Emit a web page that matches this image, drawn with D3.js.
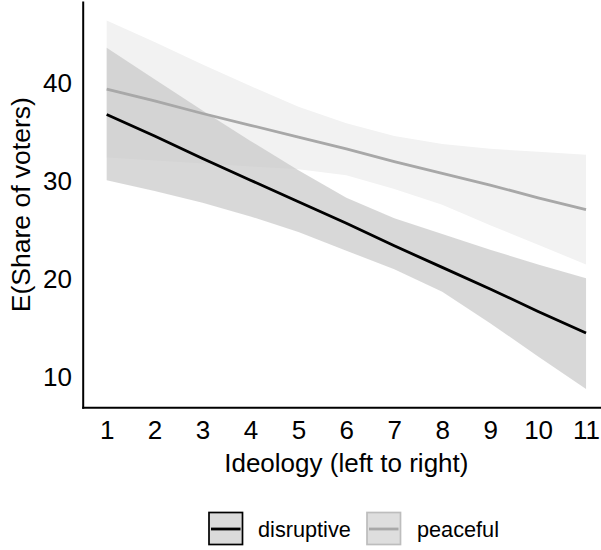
<!DOCTYPE html>
<html>
<head>
<meta charset="utf-8">
<script src="https://cdn.jsdelivr.net/npm/d3@7"></script>
<style>
  body { margin: 0; background: #fff; }
  text { font-family: "Liberation Sans", Arial, sans-serif; fill: #000; }
</style>
</head>
<body>
<svg id="chart" width="601" height="550"></svg>
<script>
// ideology scale points
var ideology = [1, 2, 3, 4, 5, 6, 7, 8, 9, 10, 11];

// expected share of voters, disruptive protest
var disruptiveFit   = [36.8, 34.6, 32.3, 30.1, 27.9, 25.7, 23.4, 21.2, 19.0, 16.7, 14.5];
var disruptiveLower = [30.1, 29.0, 27.8, 26.4, 24.8, 22.9, 21.0, 18.7, 15.5, 12.1, 8.8];
var disruptiveUpper = [43.6, 40.4, 37.2, 34.1, 31.1, 28.3, 26.2, 24.6, 23.0, 21.5, 20.1];

// expected share of voters, peaceful protest
var peacefulFit   = [39.4, 38.2, 36.9, 35.7, 34.5, 33.3, 32.0, 30.8, 29.6, 28.3, 27.1];
var peacefulLower = [32.4, 32.1, 31.8, 31.5, 31.2, 30.6, 29.2, 27.6, 25.5, 23.5, 21.5];
var peacefulUpper = [46.4, 44.2, 41.9, 39.7, 37.6, 35.9, 34.6, 33.8, 33.3, 33.0, 32.7];

var yTicks = [10, 20, 30, 40];
var seriesNames = ['disruptive', 'peaceful'];

var series = [
  { name: 'peaceful', fit: peacefulFit, lo: peacefulLower, hi: peacefulUpper,
    fill: '#f2f2f2', fillOpacity: 1, line: '#a8a8a8' },
  { name: 'disruptive', fit: disruptiveFit, lo: disruptiveLower, hi: disruptiveUpper,
    fill: '#c8c8c8', fillOpacity: 0.7, line: '#000' }
];

var svg = d3.select('#chart');
var panelLeft = 82.7, panelTop = 2, panelBottom = 407.3, panelRight = 610;

var x = d3.scaleLinear().domain([0.5, 11.5]).range([panelLeft, panelRight]);

var allVals = d3.merge([disruptiveLower, disruptiveUpper, peacefulLower, peacefulUpper]);
var ext = d3.extent(allVals);
var pad = (ext[1] - ext[0]) * 0.05;
var y = d3.scaleLinear().domain([ext[0] - pad, ext[1] + pad]).range([panelBottom, panelTop]);

var area = d3.area()
  .x(function(d) { return x(d.x); })
  .y0(function(d) { return y(d.lo); })
  .y1(function(d) { return y(d.hi); });

var line = d3.line()
  .x(function(d) { return x(d.x); })
  .y(function(d) { return y(d.fit); });

function rows(s) {
  return ideology.map(function(v, i) {
    return { x: v, fit: s.fit[i], lo: s.lo[i], hi: s.hi[i] };
  });
}

// ribbons first, then the lines on top
svg.append('g').selectAll('path')
  .data(series)
  .enter().append('path')
  .attr('d', function(s) { return area(rows(s)); })
  .style('fill', function(s) { return s.fill; })
  .style('fill-opacity', function(s) { return s.fillOpacity; })
  .style('stroke', 'none');

svg.append('g').selectAll('path')
  .data(series)
  .enter().append('path')
  .attr('d', function(s) { return line(rows(s)); })
  .style('fill', 'none')
  .style('stroke', function(s) { return s.line; })
  .style('stroke-width', 2.8);

// axes, no tick marks
var yAxis = svg.append('g')
  .attr('transform', 'translate(' + panelLeft + ',0)')
  .call(d3.axisLeft(y).tickValues(yTicks).tickSize(0).tickSizeOuter(0).tickPadding(10.7));

var xAxis = svg.append('g')
  .attr('transform', 'translate(0,' + panelBottom + ')')
  .call(d3.axisBottom(x).tickValues(ideology).tickSize(0).tickSizeOuter(0).tickPadding(12.9));

[yAxis, xAxis].forEach(function(ax) {
  ax.select('.domain').style('stroke', '#000').style('stroke-width', 2).style('stroke-linecap', 'square');
  ax.selectAll('text').style('font-size', '26px').style('font-family', '"Liberation Sans", Arial, sans-serif').attr('fill', '#000');
});

svg.append('text')
  .attr('x', (panelLeft + panelRight) / 2)
  .attr('y', 471.5)
  .attr('text-anchor', 'middle')
  .style('font-size', '26px')
  .text('Ideology (left to right)');

svg.append('text')
  .attr('transform', 'translate(30,' + (panelTop + panelBottom) / 2 + ') rotate(-90)')
  .attr('text-anchor', 'middle')
  .style('font-size', '26.5px')
  .text('E(Share of voters)');

// legend
var legendKeys = [
  { name: 'disruptive', keyX: 209, textX: 258, border: '#000', line: '#000', fill: '#dadada' },
  { name: 'peaceful', keyX: 367, textX: 417, border: '#bdbdbd', line: '#a8a8a8', fill: '#dedede' }
];

var legend = svg.append('g').selectAll('g')
  .data(legendKeys)
  .enter().append('g');

legend.append('rect')
  .attr('x', function(d) { return d.keyX; })
  .attr('y', 512.5)
  .attr('width', 33.5)
  .attr('height', 32)
  .style('fill', function(d) { return d.fill; })
  .style('stroke', function(d) { return d.border; })
  .style('stroke-width', 1.7);

legend.append('line')
  .attr('x1', function(d) { return d.keyX + 2; })
  .attr('x2', function(d) { return d.keyX + 31.5; })
  .attr('y1', 529)
  .attr('y2', 529)
  .style('stroke', function(d) { return d.line; })
  .style('stroke-width', 2.8);

legend.append('text')
  .attr('x', function(d) { return d.textX; })
  .attr('y', 529)
  .attr('dy', '0.35em')
  .style('font-size', '21.7px')
  .text(function(d) { return d.name; });
</script>
</body>
</html>
